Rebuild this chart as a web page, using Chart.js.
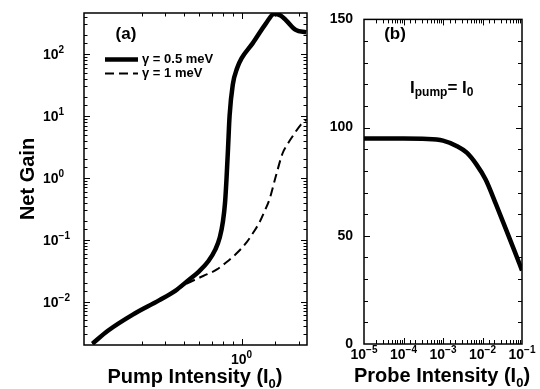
<!DOCTYPE html>
<html>
<head>
<meta charset="utf-8">
<script src="https://cdn.jsdelivr.net/npm/chart.js@4.4.0/dist/chart.umd.min.js"></script>
<style>
  html, body { margin: 0; padding: 0; background: #fff; }
  #wrap { position: relative; width: 540px; height: 389px; }
  #chartA { position: absolute; left: 0; top: 0; }
  #chartB { position: absolute; left: 320px; top: 0; }
</style>
</head>
<body>
<div id="wrap">
  <canvas id="chartA" width="320" height="389"></canvas>
  <canvas id="chartB" width="220" height="389"></canvas>
</div>
<script>
// panel (a): net gain vs pump intensity
const pumpSolid = [0.166, 0.20, 0.27, 0.37, 0.45, 0.52, 0.60, 0.67, 0.73, 0.77, 0.80, 0.82, 0.835, 0.85, 0.866, 0.90, 0.95, 1.0, 1.145, 1.34, 1.48, 1.60, 1.71, 1.92, 2.18];
const gainSolid = [0.0021, 0.0034, 0.0062, 0.0105, 0.015, 0.0215, 0.031, 0.045, 0.07, 0.11, 0.2, 0.4, 1.0, 3.0, 10, 32, 60, 85, 150, 310, 445, 420, 350, 245, 224];
const pumpDashed = [0.166, 0.20, 0.27, 0.37, 0.45, 0.52, 0.63, 0.74, 0.83, 0.94, 1.06, 1.15, 1.24, 1.32, 1.40, 1.51, 1.64, 1.75, 1.85, 2.04, 2.18];
const gainDashed = [0.0021, 0.0034, 0.0062, 0.0105, 0.015, 0.0198, 0.026, 0.033, 0.043, 0.060, 0.090, 0.13, 0.19, 0.29, 0.45, 1.05, 2.5, 3.6, 4.7, 7.2, 8.7];
const seriesLabels = ['γ = 0.5 meV', 'γ = 1 meV'];

// panel (b): net gain vs probe intensity
const probeIntensity = [1e-5, 3e-5, 1e-4, 3e-4, 1e-3, 2.2e-3, 4e-3, 7e-3, 1.2e-2, 2.2e-2, 4e-2, 6.3e-2, 1e-1];
const probeGain = [95, 95, 95, 94.8, 94, 91.5, 88.4, 83, 76, 64.5, 52.6, 43.5, 34];

// labelled ticks
const pumpLabelTicks = [1];
const gainLabelTicks = [1e-2, 1e-1, 1, 10, 100];
const probeLabelTicks = [1e-5, 1e-4, 1e-3, 1e-2, 1e-1];
const probeGainLabelTicks = [0, 50, 100, 150];

const FONT = '"Liberation Sans", Arial, Helvetica, sans-serif';
Chart.defaults.font.family = FONT;
Chart.defaults.color = '#000';

const isPow10 = v => Math.abs(Math.log10(v) - Math.round(Math.log10(v))) < 1e-9;
const inList = (v, list) => list.some(t => Math.abs(t - v) <= Math.abs(t) * 1e-6 + 1e-12);
const toXY = (xs, ys) => xs.map((x, i) => ({ x: x, y: ys[i] }));

// draws text pieces with sub/superscripts
function drawParts(ctx, parts, x, y, align) {
  let w = 0;
  parts.forEach(p => { ctx.font = 'bold ' + p.size + 'px ' + FONT; w += ctx.measureText(p.t).width; });
  let cx = align === 'center' ? x - w / 2 : x;
  ctx.textAlign = 'left';
  ctx.textBaseline = 'alphabetic';
  parts.forEach(p => {
    ctx.font = 'bold ' + p.size + 'px ' + FONT;
    ctx.fillText(p.t, cx, y + (p.dy || 0));
    cx += ctx.measureText(p.t).width;
  });
}

const powParts = v => [{ t: '10', size: 14 }, { t: String(Math.round(Math.log10(v))).replace('-', '\u2212'), size: 10, dy: -6 }];

// inward ticks on all four sides, the frame, and 10^n tick labels
function makeFrame(xMajor, yMajor, major, minor, lab) {
  return {
    id: 'frame',
    afterDatasetsDraw(chart) {
      const ctx = chart.ctx, a = chart.chartArea;
      const xs = chart.scales.x, ys = chart.scales.y;
      ctx.save();
      ctx.strokeStyle = '#000';
      ctx.fillStyle = '#000';
      ctx.lineWidth = 1;
      ctx.beginPath();
      xs.ticks.forEach(t => {
        if (t.value <= xs.min || t.value >= xs.max) return;
        const px = Math.round(xs.getPixelForValue(t.value)) + 0.5;
        const len = xMajor(t.value) ? major : minor;
        ctx.moveTo(px, a.bottom); ctx.lineTo(px, a.bottom - len);
        ctx.moveTo(px, a.top); ctx.lineTo(px, a.top + len);
      });
      ys.ticks.forEach(t => {
        if (t.value <= ys.min || t.value >= ys.max) return;
        const py = Math.round(ys.getPixelForValue(t.value)) + 0.5;
        const len = yMajor(t.value) ? major : minor;
        ctx.moveTo(a.left, py); ctx.lineTo(a.left + len, py);
        ctx.moveTo(a.right, py); ctx.lineTo(a.right - len, py);
      });
      ctx.stroke();
      ctx.lineWidth = 1.5;
      ctx.strokeRect(a.left, a.top, a.right - a.left, a.bottom - a.top);
      if (lab.x) {
        xs.ticks.forEach(t => {
          if (!inList(t.value, lab.x.list)) return;
          drawParts(ctx, powParts(t.value), xs.getPixelForValue(t.value), lab.x.baseline, 'center');
        });
      }
      if (lab.y) {
        ys.ticks.forEach(t => {
          if (!inList(t.value, lab.y.list)) return;
          drawParts(ctx, powParts(t.value), lab.y.left, ys.getPixelForValue(t.value) + 5, 'left');
        });
      }
      ctx.restore();
    }
  };
}

const labelsA = {
  id: 'labelsA',
  afterDraw(chart) {
    const ctx = chart.ctx;
    ctx.save();
    ctx.fillStyle = '#000';
    ctx.strokeStyle = '#000';
    drawParts(ctx, [{ t: '(a)', size: 17 }], 126, 39, 'center');
    chart.data.datasets.forEach((ds, i) => {
      const y = 59.5 + i * 14;
      ctx.lineWidth = ds.borderWidth;
      ctx.setLineDash(ds.borderDash || []);
      ctx.beginPath();
      ctx.moveTo(105, y); ctx.lineTo(138, y);
      ctx.stroke();
      ctx.setLineDash([]);
      ctx.font = 'bold 13px ' + FONT;
      ctx.textAlign = 'left';
      ctx.textBaseline = 'middle';
      ctx.fillText(ds.label, 142, y);
    });
    drawParts(ctx, [{ t: 'Pump Intensity (I', size: 20 }, { t: '0', size: 13, dy: 5 }, { t: ')', size: 20 }], 195, 383, 'center');
    ctx.restore();
  }
};

const labelsB = {
  id: 'labelsB',
  afterDraw(chart) {
    const ctx = chart.ctx;
    ctx.save();
    ctx.fillStyle = '#000';
    drawParts(ctx, [{ t: '(b)', size: 17 }], 75, 39, 'center');
    drawParts(ctx, [{ t: 'I', size: 17 }, { t: 'pump', size: 12, dy: 2.5 }, { t: '= I', size: 17 }, { t: '0', size: 12, dy: 2.5 }], 90, 93, 'left');
    drawParts(ctx, [{ t: 'Probe Intensity (I', size: 20 }, { t: '0', size: 13, dy: 5 }, { t: ')', size: 20 }], 122, 382, 'center');
    ctx.restore();
  }
};

const tickFont = { size: 14, weight: 'bold' };

new Chart(document.getElementById('chartA'), {
  type: 'line',
  data: {
    datasets: [
      { label: seriesLabels[0], data: toXY(pumpSolid, gainSolid), borderColor: '#000', borderWidth: 4.5, pointRadius: 0, cubicInterpolationMode: 'monotone', fill: false },
      { label: seriesLabels[1], data: toXY(pumpDashed, gainDashed), borderColor: '#000', borderWidth: 2, borderDash: [9, 5], pointRadius: 0, cubicInterpolationMode: 'monotone', fill: false }
    ]
  },
  options: {
    responsive: false,
    animation: false,
    devicePixelRatio: 1,
    layout: { padding: { top: 13, right: 13, left: 0, bottom: 0 } },
    plugins: { legend: { display: false }, tooltip: { enabled: false } },
    scales: {
      x: {
        type: 'logarithmic', min: 0.15, max: 2.2,
        grid: { display: false, drawTicks: false }, border: { display: false },
        ticks: { display: false, autoSkip: false },
        afterFit: s => { s.height = 44; }
      },
      y: {
        type: 'logarithmic', min: 0.002, max: 460,
        grid: { display: false, drawTicks: false }, border: { display: false },
        ticks: { display: false, autoSkip: false },
        title: { display: true, text: 'Net Gain', font: { size: 20, weight: 'bold' }, padding: { top: 16, bottom: 0 } },
        afterFit: s => { s.width = 84; }
      }
    }
  },
  plugins: [makeFrame(isPow10, isPow10, 6, 3.5, { x: { list: pumpLabelTicks, baseline: 364 }, y: { list: gainLabelTicks, left: 43 } }), labelsA]
});

new Chart(document.getElementById('chartB'), {
  type: 'line',
  data: {
    datasets: [
      { label: 'Net gain', data: toXY(probeIntensity, probeGain), borderColor: '#000', borderWidth: 4.5, pointRadius: 0, cubicInterpolationMode: 'monotone', fill: false }
    ]
  },
  options: {
    responsive: false,
    animation: false,
    devicePixelRatio: 1,
    layout: { padding: { top: 12, right: 18, left: 0, bottom: 0 } },
    plugins: { legend: { display: false }, tooltip: { enabled: false } },
    scales: {
      x: {
        type: 'logarithmic', min: 1e-5, max: 1e-1,
        grid: { display: false, drawTicks: false }, border: { display: false },
        ticks: { display: false, autoSkip: false },
        afterFit: s => { s.height = 45; }
      },
      y: {
        type: 'linear', min: 0, max: 150,
        grid: { display: false, drawTicks: false }, border: { display: false },
        ticks: { stepSize: 10, autoSkip: false, padding: 11, font: tickFont, callback: v => inList(v, probeGainLabelTicks) ? String(v) : '' },
        afterFit: s => { s.width = 44; }
      }
    }
  },
  plugins: [makeFrame(isPow10, v => v % 50 === 0, 6, 4, { x: { list: probeLabelTicks, baseline: 359 } }), labelsB]
});
</script>
</body>
</html>
